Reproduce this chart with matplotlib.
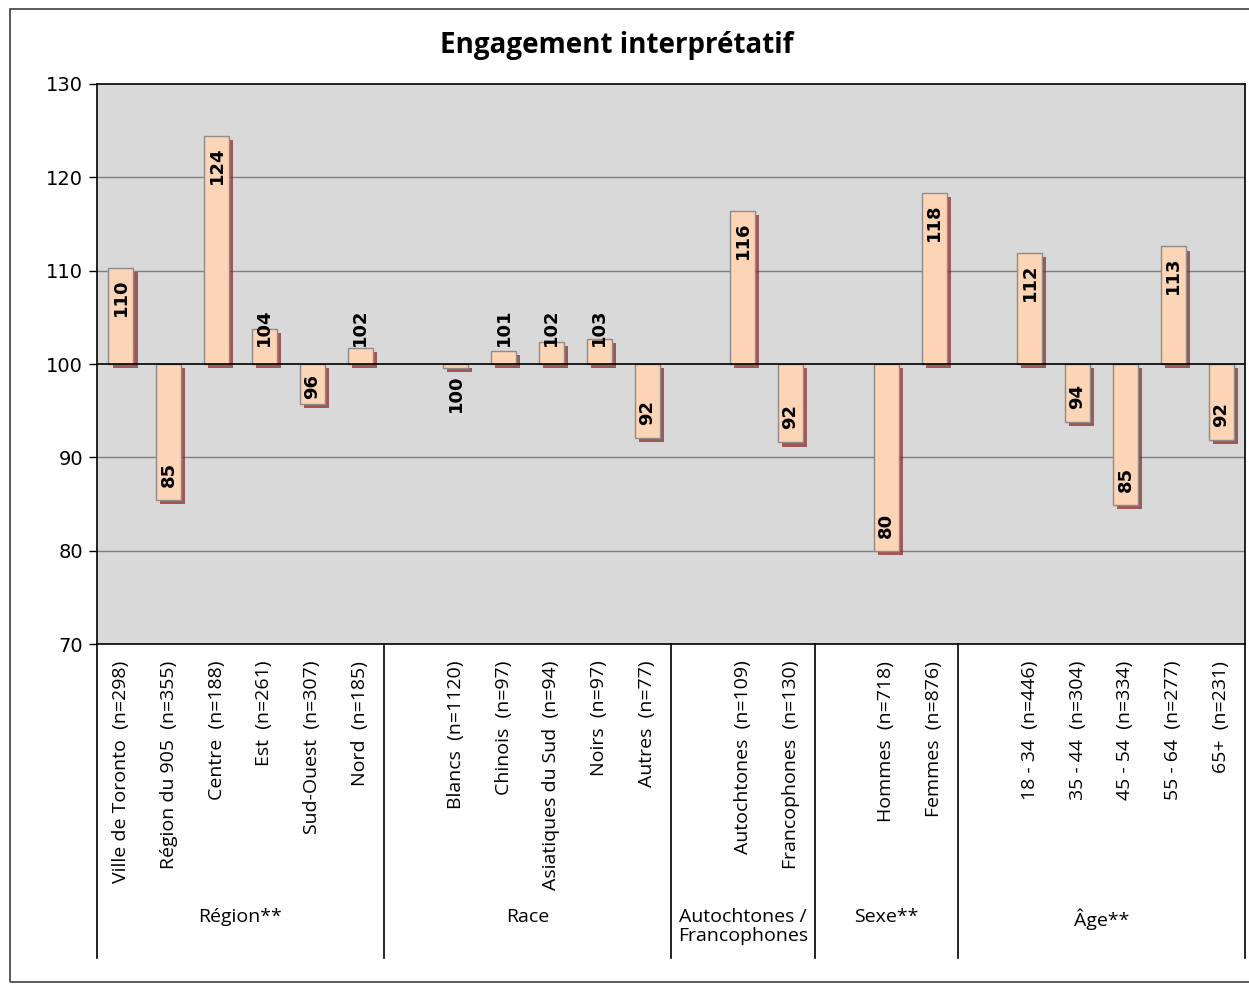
import matplotlib
matplotlib.use("Agg")
import matplotlib.pyplot as plt
import matplotlib.patheffects as pe
from matplotlib.patches import Rectangle
import numpy as np

# data (index, base = 100)
region_labels = ["Ville de Toronto  (n=298)", "Région du 905  (n=355)", "Centre  (n=188)",
                 "Est  (n=261)", "Sud-Ouest  (n=307)", "Nord  (n=185)"]
region_values = [110.3, 85.4, 124.4, 103.8, 95.7, 101.7]

race_labels = ["Blancs  (n=1120)", "Chinois  (n=97)", "Asiatiques du Sud  (n=94)",
               "Noirs  (n=97)", "Autres  (n=77)"]
race_values = [99.6, 101.4, 102.4, 102.7, 92.1]

autfr_labels = ["Autochtones  (n=109)", "Francophones  (n=130)"]
autfr_values = [116.4, 91.6]

sexe_labels = ["Hommes  (n=718)", "Femmes  (n=876)"]
sexe_values = [80.0, 118.3]

age_labels = ["18 - 34  (n=446)", "35 - 44  (n=304)", "45 - 54  (n=334)",
              "55 - 64  (n=277)", "65+  (n=231)"]
age_values = [111.9, 93.8, 84.9, 112.6, 91.9]

group_names = ["Région**", "Race", "Autochtones /\nFrancophones", "Sexe**", "Âge**"]
group_labels = [region_labels, race_labels, autfr_labels, sexe_labels, age_labels]
group_values = [region_values, race_values, autfr_values, sexe_values, age_values]

base = 100

# build slot positions: one empty slot before every group except the first
positions, labels, values = [], [], []
group_spans = []
slot = 0
for g, (labs, vals) in enumerate(zip(group_labels, group_values)):
    start = slot
    if g > 0:
        slot += 1
    for lab, v in zip(labs, vals):
        positions.append(slot)
        labels.append(lab)
        values.append(v)
        slot += 1
    group_spans.append((start - 0.5, slot - 0.5))
values = np.array(values)

fig = plt.figure(figsize=(12.49, 9.85), dpi=100)
ax = fig.add_axes([97 / 1249, 1 - 644 / 985, 1148 / 1249, 560 / 985])
ax.set_facecolor("#D9D9D9")

# chart border
fig.patches.append(Rectangle((10 / 1249, 1 - 982 / 985), 1.0, 973 / 985,
                             transform=fig.transFigure, fill=False,
                             edgecolor="#404040", linewidth=1.2, zorder=0))

ax.set_ylim(70, 130)
ax.set_xlim(-0.5, slot - 0.5)
ax.set_yticks(np.arange(70, 131, 10))
for y in [80, 90, 110, 120]:
    ax.axhline(y, color="#808080", linewidth=1, zorder=1)
ax.axhline(base, color="black", linewidth=1.2, zorder=4)

bars = ax.bar(positions, values - base, bottom=base, width=0.52,
              color="#FBD5B5", edgecolor="#8c8c8c", linewidth=1, zorder=3)
for b in bars:
    b.set_path_effects([pe.SimplePatchShadow(offset=(3, -3), shadow_rgbFace="#8B2020", alpha=0.7),
                        pe.Normal()])

# value labels
for x, v in zip(positions, values):
    txt = f"{round(v):d}"
    d = v - base
    if d >= 5:
        ax.text(x, v - 1.1, txt, rotation=90, ha="center", va="top",
                fontsize=13, fontweight="bold", zorder=5)
    elif d >= 0:
        ax.text(x, base + 1.9, txt, rotation=90, ha="center", va="bottom",
                fontsize=13, fontweight="bold", zorder=5)
    elif d > -5:
        ax.text(x, base - 1.1, txt, rotation=90, ha="center", va="top",
                fontsize=13, fontweight="bold", zorder=5)
    else:
        ax.text(x, v + 1.4, txt, rotation=90, ha="center", va="bottom",
                fontsize=13, fontweight="bold", zorder=5)

ax.set_xticks(positions)
ax.set_xticklabels(labels, rotation=90, fontsize=14, family="Open Sans")
ax.tick_params(axis="x", length=0, pad=12)
ax.tick_params(axis="y", length=6, width=1, labelsize=14, pad=4)

for s in ["left", "bottom", "top", "right"]:
    ax.spines[s].set_color("black")
    ax.spines[s].set_linewidth(1.2)

# group separators and names
trans = ax.get_xaxis_transform()
sep_bottom = -(958 - 644) / 560
edges = [group_spans[0][0]] + [s[1] for s in group_spans]
for e in edges:
    ax.plot([e, e], [0, sep_bottom], transform=trans, color="black",
            linewidth=1.2, clip_on=False)
for name, (a, b) in zip(group_names, group_spans):
    ax.text((a + b) / 2, -(908 - 644) / 560, name, transform=trans,
            ha="center", va="top", fontsize=14, family="Open Sans",
            linespacing=1.05)

fig.text(617 / 1249, 1 - 45 / 985, "Engagement interprétatif", ha="center", va="center",
         fontsize=20, fontweight="bold", family="Open Sans")

fig.savefig("out.png", dpi=100, facecolor="white")
